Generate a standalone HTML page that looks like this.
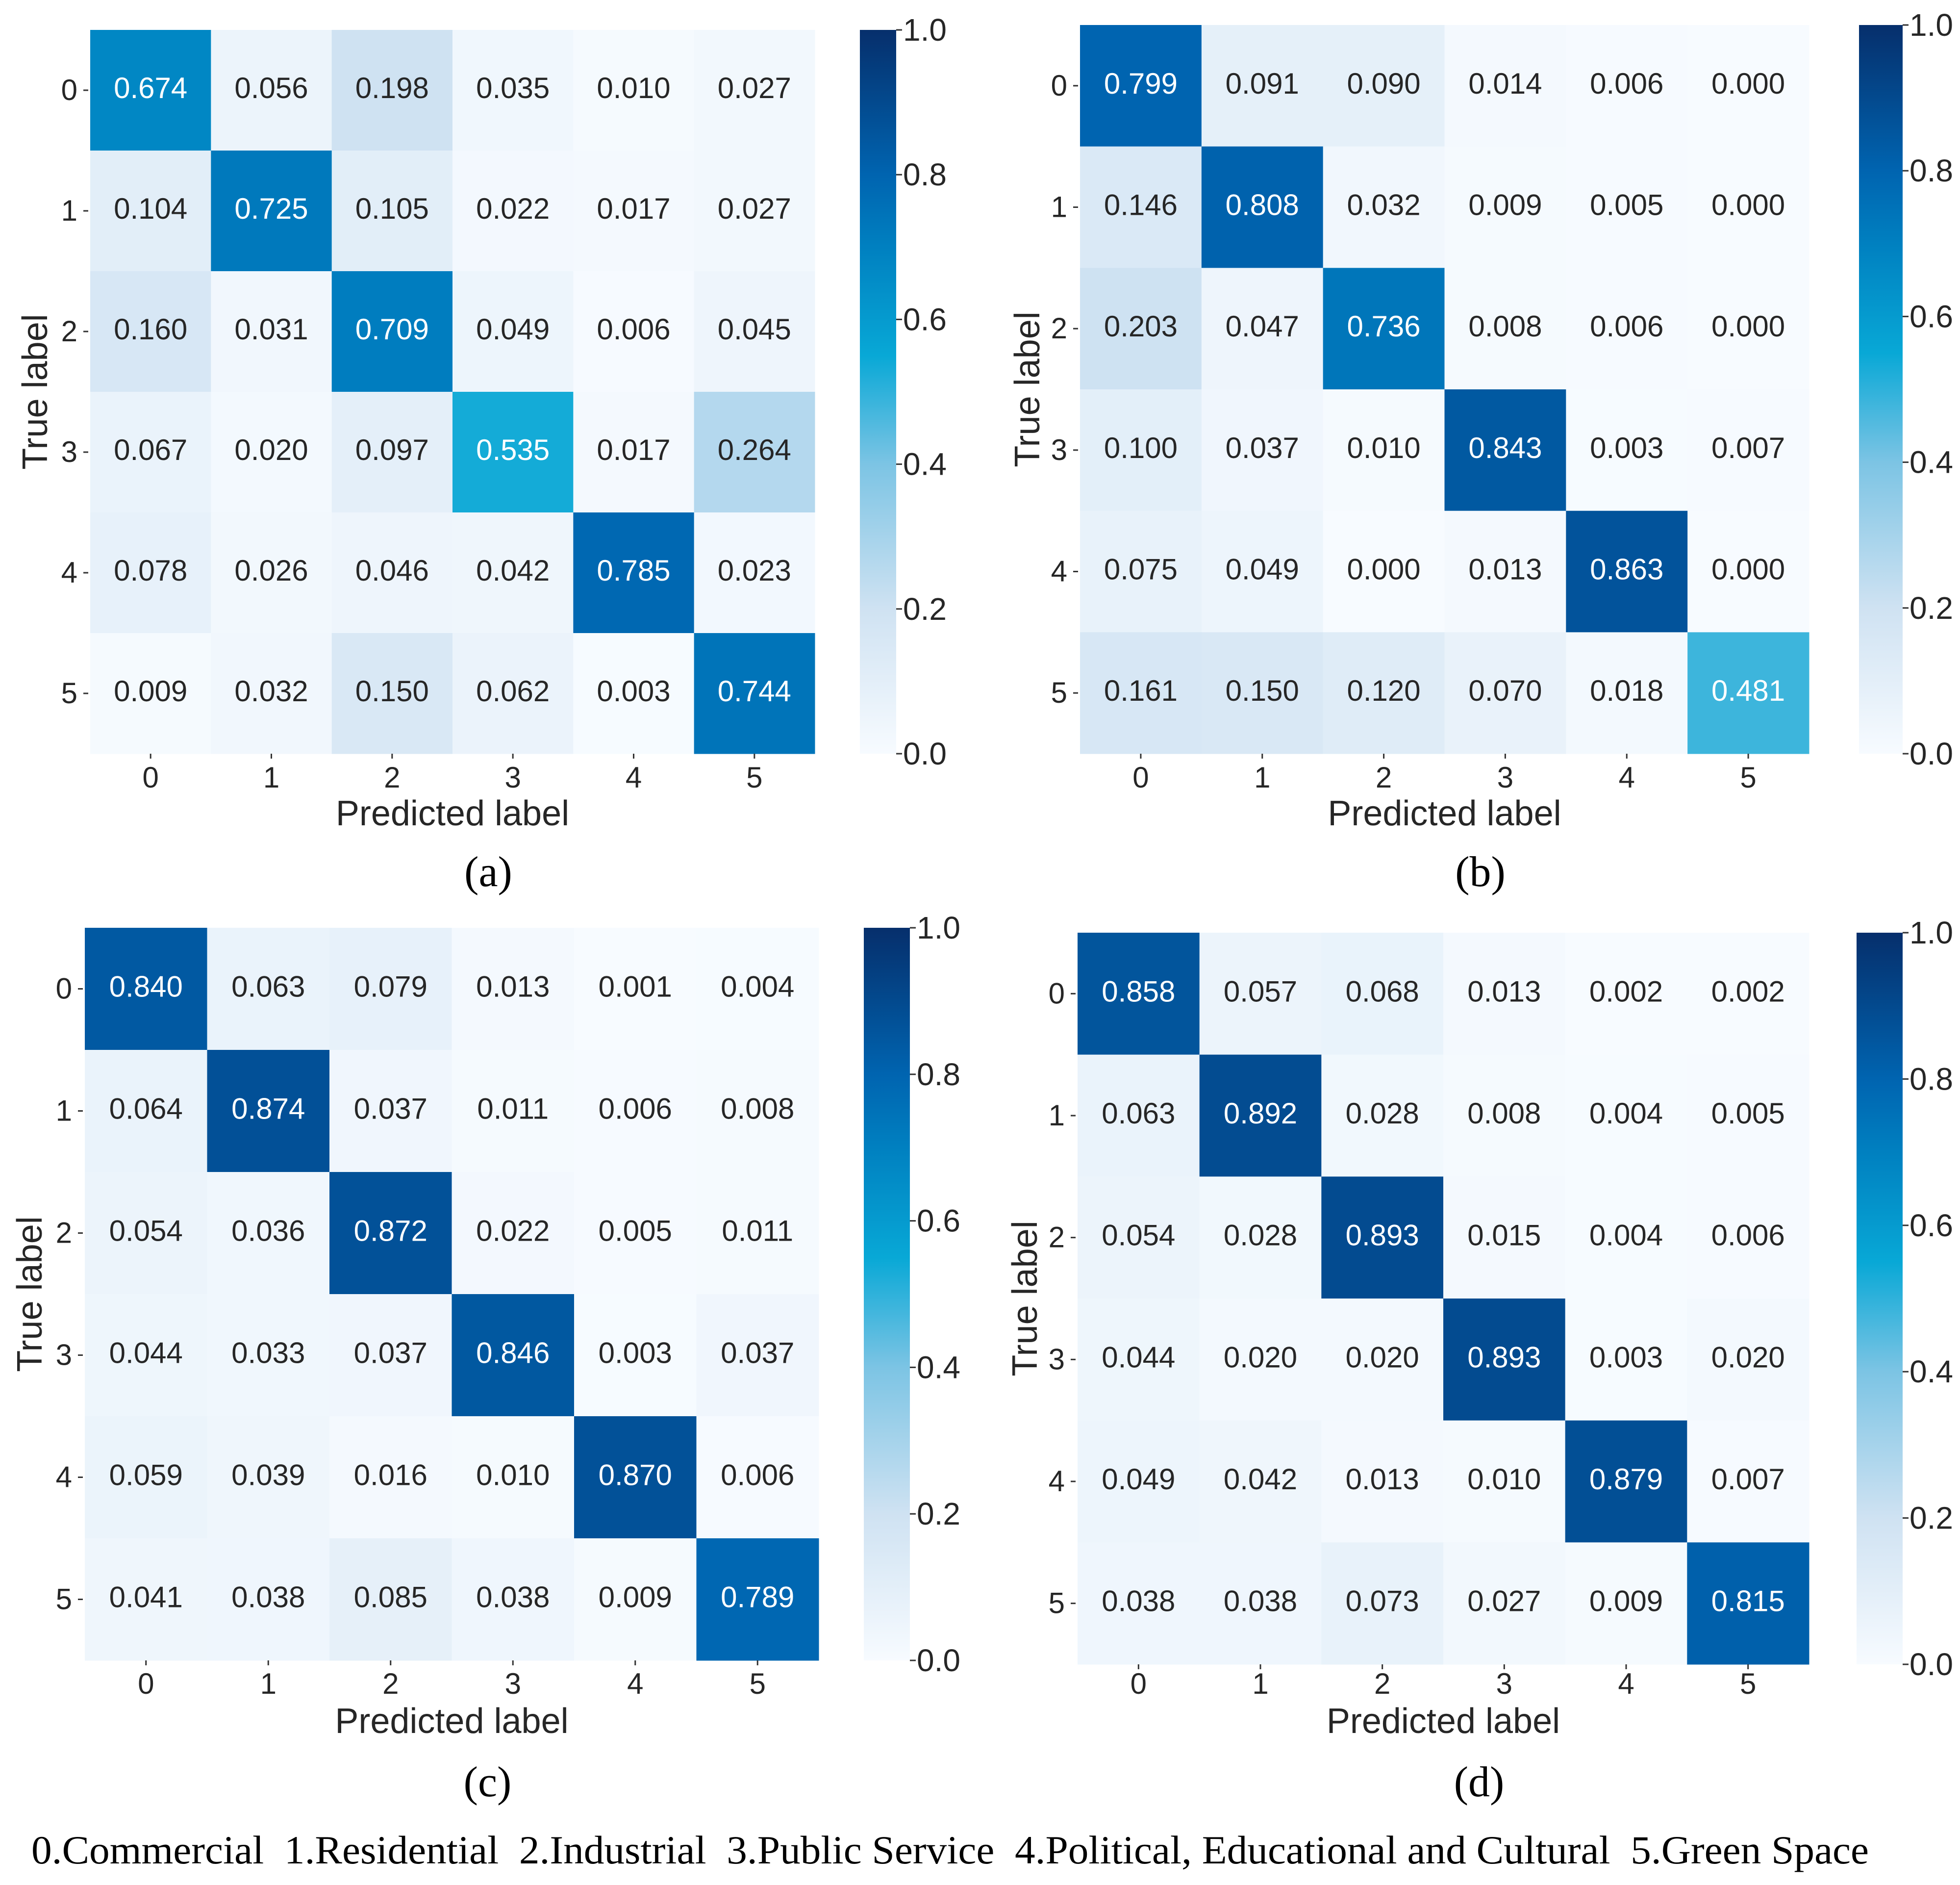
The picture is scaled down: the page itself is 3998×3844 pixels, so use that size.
<!DOCTYPE html>
<html><head><meta charset="utf-8"><style>
html,body{margin:0;padding:0;background:#fff;}
svg{display:block;}
</style></head><body>
<svg id="fig" width="3998" height="3844" viewBox="0 0 3998 3844" xmlns="http://www.w3.org/2000/svg">
<defs>
<linearGradient id="cmap" x1="0" y1="1" x2="0" y2="0">
<stop offset="0" stop-color="#f7fbff"/><stop offset="0.2" stop-color="#cfe2f2"/><stop offset="0.4" stop-color="#7cc4e4"/><stop offset="0.55" stop-color="#08a8d6"/><stop offset="0.7" stop-color="#0080c0"/><stop offset="0.8" stop-color="#0064b0"/><stop offset="1" stop-color="#062f6c"/>
</linearGradient>
</defs>
<g id="root"></g>
<text x="64" y="3800" textLength="3748" lengthAdjust="spacingAndGlyphs" style="white-space:pre" xml:space="preserve" font-family="Liberation Serif, serif" font-size="82" fill="#000">0.Commercial  1.Residential  2.Industrial  3.Public Service  4.Political, Educational and Cultural  5.Green Space</text>
</svg>
<script>
const classLabels = ["0","1","2","3","4","5"];
const cbTicks = [0.0,0.2,0.4,0.6,0.8,1.0];
const panelNames = ["a","b","c","d"];
const matrixA = [[0.674,0.056,0.198,0.035,0.010,0.027],[0.104,0.725,0.105,0.022,0.017,0.027],[0.160,0.031,0.709,0.049,0.006,0.045],[0.067,0.020,0.097,0.535,0.017,0.264],[0.078,0.026,0.046,0.042,0.785,0.023],[0.009,0.032,0.150,0.062,0.003,0.744]];
const matrixB = [[0.799,0.091,0.090,0.014,0.006,0.000],[0.146,0.808,0.032,0.009,0.005,0.000],[0.203,0.047,0.736,0.008,0.006,0.000],[0.100,0.037,0.010,0.843,0.003,0.007],[0.075,0.049,0.000,0.013,0.863,0.000],[0.161,0.150,0.120,0.070,0.018,0.481]];
const matrixC = [[0.840,0.063,0.079,0.013,0.001,0.004],[0.064,0.874,0.037,0.011,0.006,0.008],[0.054,0.036,0.872,0.022,0.005,0.011],[0.044,0.033,0.037,0.846,0.003,0.037],[0.059,0.039,0.016,0.010,0.870,0.006],[0.041,0.038,0.085,0.038,0.009,0.789]];
const matrixD = [[0.858,0.057,0.068,0.013,0.002,0.002],[0.063,0.892,0.028,0.008,0.004,0.005],[0.054,0.028,0.893,0.015,0.004,0.006],[0.044,0.020,0.020,0.893,0.003,0.020],[0.049,0.042,0.013,0.010,0.879,0.007],[0.038,0.038,0.073,0.027,0.009,0.815]];
const matrices = [matrixA, matrixB, matrixC, matrixD];

const layouts = [
 {x0:184,x1:1662,y0:61,y1:1537,cx0:1754,cx1:1828,xl:1584,pl:1658,cap:1777,tl:71},
 {x0:2203,x1:3690,y0:51,y1:1537,cx0:3792,cx1:3881,xl:1584,pl:1658,cap:1777,tl:2095},
 {x0:173,x1:1670,y0:1892,y1:3386,cx0:1762,cx1:1856,xl:3432,pl:3509,cap:3633,tl:60},
 {x0:2198,x1:3690,y0:1902,y1:3394,cx0:3787,cx1:3881,xl:3432,pl:3509,cap:3633,tl:2090}
];
const stops=[[0,[247,251,255]],[0.2,[207,226,242]],[0.4,[124,196,228]],[0.55,[8,168,214]],[0.7,[0,128,192]],[0.8,[0,100,176]],[1,[6,47,108]]];
function cmap(v){for(let i=1;i<stops.length;i++){if(v<=stops[i][0]){const a=stops[i-1],b=stops[i];const t=(v-a[0])/(b[0]-a[0]);const c=a[1].map((x,k)=>Math.round(x+(b[1][k]-x)*t));return `rgb(${c})`;}}return 'rgb(6,47,108)';}
const NS="http://www.w3.org/2000/svg";
const root=document.getElementById('root');
function mk(tag,attrs,parent,txt){const e=document.createElementNS(NS,tag);for(const k in attrs)e.setAttribute(k,attrs[k]);if(txt!==undefined)e.textContent=txt;parent.appendChild(e);return e;}
const F='Liberation Sans, Arial, sans-serif';
matrices.forEach((m,p)=>{
 const L=layouts[p];
 const g=mk('g',{},root);
 
 
 const n=classLabels.length;
 const cw=(L.x1-L.x0)/n, ch=(L.y1-L.y0)/n;
 const xs=i=>L.x0+i*cw, ys=i=>L.y0+i*ch;
 m.forEach((row,r)=>row.forEach((v,c)=>{
  const rc=mk('rect',{x:xs(c),y:ys(r),width:cw+0.5,height:ch+0.5,fill:cmap(v)},g);
  
  
  const t=mk('text',{x:xs(c)+cw/2,y:ys(r)+ch/2+16,'text-anchor':'middle','font-family':F,'font-size':60,fill:v>0.4?'#fff':'#262626'},g,v.toFixed(3));
  
  
 }));
 classLabels.forEach((lb,i)=>{
  const tx=mk('text',{x:xs(i)+cw/2,y:L.xl+22,'text-anchor':'middle','font-family':F,'font-size':60,fill:'#262626'},g,lb);
  
  
  mk('line',{x1:xs(i)+cw/2,x2:xs(i)+cw/2,y1:L.y1,y2:L.y1+10,stroke:'#333','stroke-width':3},g);
  const ty=mk('text',{x:L.x0-26,y:ys(i)+ch/2+20,'text-anchor':'end','font-family':F,'font-size':60,fill:'#262626'},g,lb);
  
  
  mk('line',{x1:L.x0-14,x2:L.x0-4,y1:ys(i)+ch/2,y2:ys(i)+ch/2,stroke:'#333','stroke-width':3},g);
 });
 const xt=mk('text',{x:(L.x0+L.x1)/2,y:L.pl+25,'text-anchor':'middle','font-family':F,'font-size':72,fill:'#262626'},g,'Predicted label');
 
 
 const yc=(L.y0+L.y1)/2;
 const yt=mk('text',{x:L.tl+25,y:yc,'text-anchor':'middle','font-family':F,'font-size':72,fill:'#262626',transform:`rotate(-90 ${L.tl+25} ${yc})`},g,'True label');
 
 
 const cap=mk('text',{x:(L.x0+L.x1)/2+73,y:L.cap+30,'text-anchor':'middle','font-family':'Liberation Serif, serif','font-size':88,fill:'#000'},g,'('+panelNames[p]+')');
 
 
 const cb=mk('rect',{x:L.cx0,y:L.y0,width:L.cx1-L.cx0,height:L.y1-L.y0,fill:'url(#cmap)'},g);
 
 
 const cy=v=>L.y1-v*(L.y1-L.y0);
 cbTicks.forEach(v=>{
  mk('line',{x1:L.cx1,x2:L.cx1+12,y1:cy(v),y2:cy(v),stroke:'#333','stroke-width':3},g);
  const ct=mk('text',{x:L.cx1+14,y:cy(v)+22,'font-family':F,'font-size':64,fill:'#262626'},g,v.toFixed(1));
  
  
 });
});
</script>
</body></html>
